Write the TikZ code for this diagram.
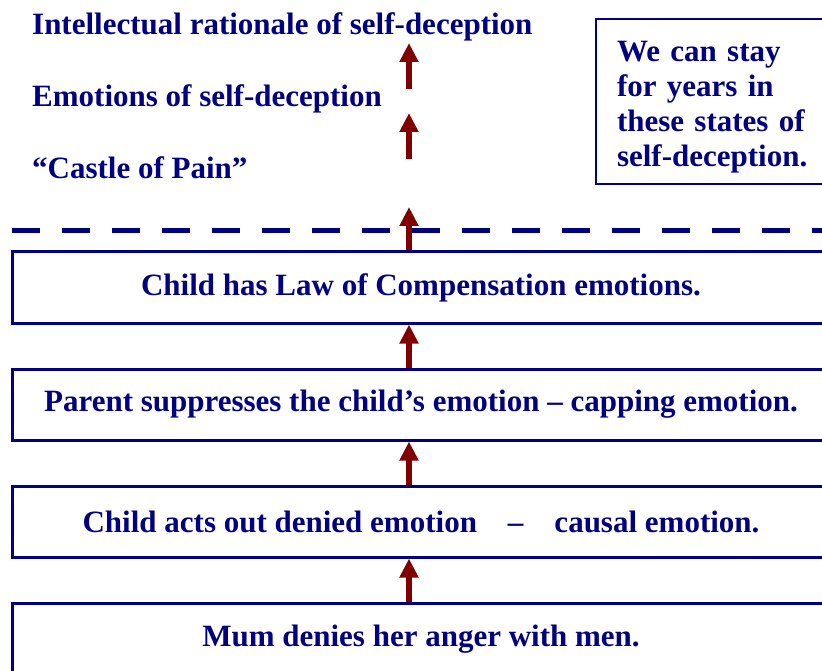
\documentclass[tikz,border=0pt]{standalone}
\usepackage{fontspec}
\setmainfont{Liberation Serif}
\usetikzlibrary{arrows.meta}
\definecolor{navytext}{RGB}{0,0,128}
\definecolor{arrowred}{RGB}{128,0,0}
\tikzset{
    boldtext/.style={text=navytext, font=\bfseries\fontsize{31}{35}\selectfont},
    stagebox/.style={boldtext, draw=navytext, line width=3pt, minimum width=818pt,
        minimum height=71pt, inner sep=0pt},
    levellabel/.style={boldtext, anchor=base west, inner sep=0pt},
    notebox/.style={boldtext, draw=navytext, line width=2pt, text width=240pt,
        align=left, inner xsep=21pt, minimum height=165pt, anchor=north west},
    uparrow/.style={arrowred, line width=6pt, -{Triangle[width=18pt,length=19pt]}},
    cutline/.style={navytext, line width=5pt, dash pattern=on 28pt off 22pt}
}
\begin{document}
\begin{tikzpicture}[x=1pt,y=-1pt]
    \clip (0,0) rectangle (822,671);
    % the stages, bottom one last
    \node[stagebox] (b1) at (421,287.5) {Child has Law of Compensation emotions.};
    \node[stagebox] (b2) at (421,404.5) {Parent suppresses the child’s emotion – capping emotion.};
    \node[stagebox] (b3) at (421,521.5) {Child acts out denied emotion\quad–\quad causal emotion.};
    \node[stagebox] (b4) at (421,639) {Mum denies her anger with men.};
    % the levels above the line
    \node[levellabel] (intel) at (32,35) {Intellectual rationale of self-deception};
    \node[levellabel] (emot) at (32,107) {Emotions of self-deception};
    \node[levellabel] (castle) at (32,179) {“Castle of Pain”};
    \node[notebox] (note) at (595,18) {\rule{0pt}{31pt}We can stay\\for years in\\these states of\\self-deception.};
    % dashed line
    \coordinate (dl) at (12,231);
    \coordinate (dr) at (822,231);
    \draw[cutline] (dl) -- (dr);
    % arrows
    \coordinate (ax) at (409,0);
    \draw[uparrow] (b4.north -| ax) -- (b3.south -| ax);
    \draw[uparrow] (b3.north -| ax) -- (b2.south -| ax);
    \draw[uparrow] (b2.north -| ax) -- (b1.south -| ax);
    \coordinate (t3) at (409,207);
    \draw[uparrow] (b1.north -| ax) -- (t3);
    \coordinate (s2) at (409,159);
    \coordinate (t2) at (409,113);
    \draw[uparrow] (s2) -- (t2);
    \coordinate (s1) at (409,89);
    \coordinate (t1) at (409,43);
    \draw[uparrow] (s1) -- (t1);
\end{tikzpicture}
\end{document}
